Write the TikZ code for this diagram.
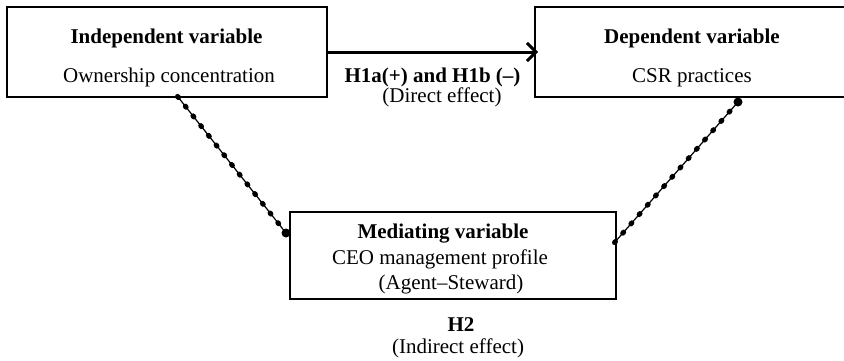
\documentclass[tikz,border=0pt]{standalone}
\usepackage{fontspec}
\setmainfont{Liberation Serif}
\usetikzlibrary{decorations.markings,calc,arrows.meta}
\begin{document}
\begin{tikzpicture}[x=1pt,y=1pt,
  box/.style={draw, line width=2.1pt, rectangle, inner sep=0pt, outer sep=0pt},
  lbl/.style={anchor=base, inner sep=0pt, font=\fontsize{21}{25}\selectfont},
  blbl/.style={anchor=base, inner sep=0pt, font=\fontsize{21}{25}\selectfont\bfseries},
  dotline/.style={line width=1.2pt, postaction={decorate},
    decoration={markings, mark=between positions 0 and 1 step 12.4pt with {\fill (0,0) ellipse (3.3pt and 2.7pt);}}},
  blob/.style={fill, circle, inner sep=0pt, minimum size=9pt}
]
\clip (0,0) rectangle (844,360);
\fill[white] (0,0) rectangle (844,360);
% boxes
\node[box, minimum width=320pt, minimum height=90pt] (iv) at (167,308) {};
\node[box, minimum width=314pt, minimum height=90pt] (dv) at (692,308) {};
\node[box, minimum width=326pt, minimum height=87pt] (med) at (453,104.5) {};
% texts
\node[blbl] (ivt) at (166.5,317) {Independent variable};
\node[lbl] (ivs) at (169,278) {Ownership concentration};
\node[blbl] (dvt) at (692,317) {Dependent variable};
\node[lbl] (dvs) at (692,278) {CSR practices};
\node[blbl] (h1) at (432.5,278) {H1a(+) and H1b (–)};
\node[lbl] (h1s) at (442,258) {(Direct effect)};
\node[blbl] (mt) at (443,122) {Mediating variable};
\node[lbl] (ms) at (440,96) {CEO management profile};
\node[lbl] (ma) at (451,71) {(Agent–Steward)};
\node[blbl] (h2) at (461,29) {H2};
\node[lbl] (h2s) at (458,7) {(Indirect effect)};
% direct arrow
\draw[line width=3pt, shorten >=-3pt, -{Straight Barb[length=9pt,width=18pt,line width=3pt]}] (iv.east) -- (dv.west);
% dotted connectors
\coordinate (a1) at ($(iv.south west)+(171,0)$);
\coordinate (a2) at ($(med.north west)+(-4,-21)$);
\coordinate (b1) at ($(med.north east)+(-1,-30)$);
\coordinate (b2) at ($(dv.south west)+(203,-5)$);
\draw[dotline] (a1) -- (a2);
\draw[dotline] (b1) -- (b2);
\node[blob] (a2b) at (a2) {};
\node[blob] (b2b) at (b2) {};
\end{tikzpicture}
\end{document}
